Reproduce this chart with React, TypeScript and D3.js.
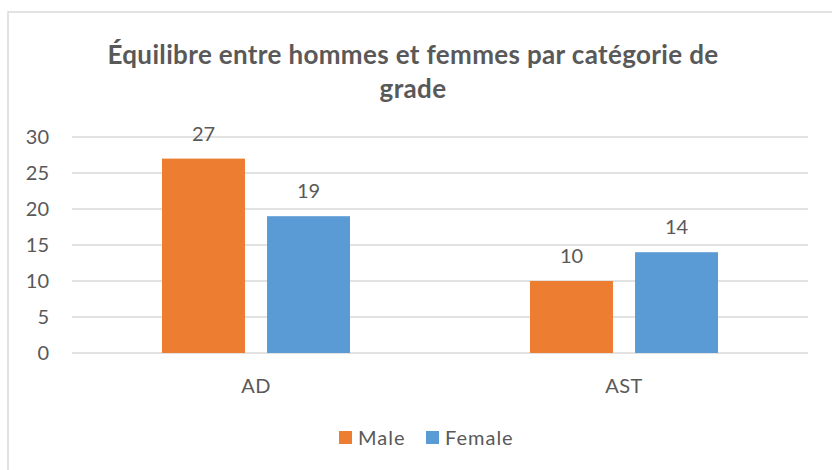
import * as d3 from "d3";
import React from "react";

const width = 832;
const height = 470;
const margin = { top: 137, right: 24, bottom: 117, left: 72 };
const textColor = "#595959";
const gridColor = "#d9d9d9";
const font = "Lato, 'Open Sans', sans-serif";

// data
const categories = ["AD", "AST"];
const seriesNames = ["Male", "Female"];
const maleValues = [27, 10];
const femaleValues = [19, 14];
const seriesColors = ["#ED7D31", "#5B9BD5"];
const yTicks = [0, 5, 10, 15, 20, 25, 30];
const titleLines = ["Équilibre entre hommes et femmes par catégorie de", "grade"];

const seriesValues = [maleValues, femaleValues];

export default function App() {
  const x = d3.scaleBand()
    .domain(categories)
    .range([margin.left, width - margin.right])
    .padding(0);

  const groupWidth = 188;
  const xInner = d3.scaleBand()
    .domain(seriesNames)
    .range([0, groupWidth])
    .paddingInner(0.21);

  const y = d3.scaleLinear()
    .domain([0, 30])
    .range([height - margin.bottom, margin.top]);

  const groupStart = (c: string) => x(c)! + (x.bandwidth() - groupWidth) / 2;

  return (
    <svg width={width} height={height}
      style={{ position: "absolute", left: 0, top: 0, background: "#fff" }}
      fontFamily={font}>
      {/* chart frame, cut off on the right and bottom */}
      <rect x={8} y={12} width={width} height={height} fill="#fff" stroke={gridColor} strokeWidth={1.5} />

      {titleLines.map((t, i) => (
        <text key={t} x={width / 2 - 3} y={64 + i * 34} textAnchor="middle"
          fontSize={26} fontWeight="bold" letterSpacing={0.35} fill={textColor}>{t}</text>
      ))}

      {/* grid + y labels */}
      {yTicks.map(t => (
        <g key={t}>
          <line x1={margin.left} x2={width - margin.right} y1={y(t)} y2={y(t)}
            stroke={gridColor} strokeWidth={1.5} />
          <text x={49} y={y(t)} dy="0.35em" textAnchor="end" fontSize={20} fill={textColor}>{t}</text>
        </g>
      ))}

      {/* bars */}
      {seriesNames.map((s, si) => (
        <g key={s} fill={seriesColors[si]}>
          {categories.map((c, ci) => {
            const v = seriesValues[si][ci];
            const bx = groupStart(c) + xInner(s)!;
            return (
              <g key={c}>
                <rect x={bx} y={y(v)} width={xInner.bandwidth()} height={y(0) - y(v)} />
                <text x={bx + xInner.bandwidth() / 2} y={y(v) - 18} textAnchor="middle"
                  fontSize={20} fill={textColor}>{v}</text>
              </g>
            );
          })}
        </g>
      ))}

      {/* x labels */}
      {categories.map(c => (
        <text key={c} x={x(c)! + x.bandwidth() / 2} y={393} textAnchor="middle"
          fontSize={20} letterSpacing={0.5} fill={textColor}>{c}</text>
      ))}

      {/* legend */}
      <g>
        {seriesNames.map((s, i) => {
          const lx = [339, 426][i];
          return (
            <g key={s}>
              <rect x={lx} y={431} width={13} height={13} fill={seriesColors[i]} />
              <text x={lx + 19} y={445} fontSize={20} letterSpacing={1} fill={textColor}>{s}</text>
            </g>
          );
        })}
      </g>
    </svg>
  );
}
